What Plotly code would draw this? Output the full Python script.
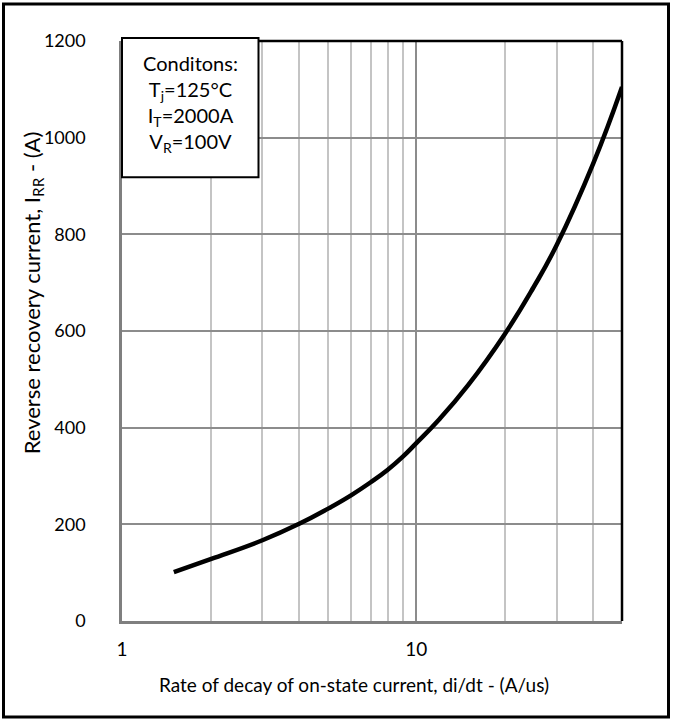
import plotly.graph_objects as go

# Data
didt = [1.5, 2, 3, 4, 5, 6, 7, 8, 9, 10, 12, 15, 20, 25, 30, 40, 50]
irr = [101, 128, 167, 201, 232, 260, 287, 313, 340, 368, 418, 488, 594, 690, 778, 948, 1105]

x_major = [1, 10]
x_major_labels = ["1", "10"]
x_minor = [2, 3, 4, 5, 6, 7, 8, 9, 20, 30, 40]
y_ticks = [0, 200, 400, 600, 800, 1000, 1200]

FONT = "Lato, 'Open Sans', sans-serif"

fig = go.Figure()
fig.add_trace(go.Scatter(
    x=didt, y=irr, mode="lines",
    line=dict(color="black", width=4.5, shape="spline", smoothing=1.3),
    hoverinfo="skip", showlegend=False, cliponaxis=False,
))

fig.update_layout(
    width=674, height=722,
    margin=dict(l=122, r=52, t=41, b=101),
    paper_bgcolor="white", plot_bgcolor="white",
    font=dict(family=FONT, color="black"),
    xaxis=dict(
        type="log", range=[0, 1.69897],
        tickvals=x_major, ticktext=x_major_labels,
        showgrid=True, gridcolor="#8c8c8c", gridwidth=1.5,
        minor=dict(tickvals=x_minor, showgrid=True, gridcolor="#c4c4c4", gridwidth=1.5, ticks=""),
        showline=True, linecolor="#7f7f7f", linewidth=2.5,
        ticks="", tickfont=dict(size=19, family=FONT),
        ticklabelstandoff=9,
        zeroline=False, fixedrange=True,
    ),
    yaxis=dict(
        range=[0, 1200], tickvals=y_ticks,
        showgrid=True, gridcolor="#8c8c8c", gridwidth=1.5,
        showline=True, linecolor="#7f7f7f", linewidth=2.5,
        ticks="", tickfont=dict(size=18, family=FONT),
        ticklabelstandoff=30,
        zeroline=False, fixedrange=True,
    ),
    shapes=[
        # outer frame
        dict(type="rect", xref="paper", yref="paper",
             x0=-0.237, x1=1.093, y0=-0.1655, y1=1.0638,
             line=dict(color="black", width=3), fillcolor="rgba(0,0,0,0)", layer="above"),
        # top and right plot border
        dict(type="line", xref="paper", yref="paper", x0=0, x1=1, y0=1, y1=1,
             line=dict(color="black", width=2.5), layer="above"),
        dict(type="line", xref="paper", yref="paper", x0=1, x1=1, y0=0, y1=1,
             line=dict(color="black", width=2.5), layer="above"),
        # conditions box
        dict(type="rect", xref="paper", yref="paper",
             x0=0.0, x1=0.273, y0=0.765, y1=1.005,
             line=dict(color="black", width=2), fillcolor="white", layer="above"),
    ],
    annotations=[
        dict(xref="paper", yref="paper", x=0.137, y=0.893, showarrow=False,
             xanchor="center", yanchor="middle",
             text="Conditons:<br>T<sub>j</sub>=125°C<br>I<sub>T</sub>=2000A<br>V<sub>R</sub>=100V",
             align="center", font=dict(size=20, family=FONT, color="black")),
        dict(xref="paper", yref="paper", x=-0.178, y=0.565, showarrow=False,
             xanchor="center", yanchor="middle", textangle=-90,
             text="Reverse recovery current, I<sub>RR</sub> - (A)",
             font=dict(size=22, family=FONT, color="black")),
        dict(xref="paper", yref="paper", x=0.463, y=-0.11, showarrow=False,
             xanchor="center", yanchor="middle",
             text="Rate of decay of on-state current, di/dt - (A/us)",
             font=dict(size=19, family=FONT, color="black")),
    ],
)

fig.write_html("out.html", post_script="document.body.style.margin='0px';",
               config={"displayModeBar": False})
